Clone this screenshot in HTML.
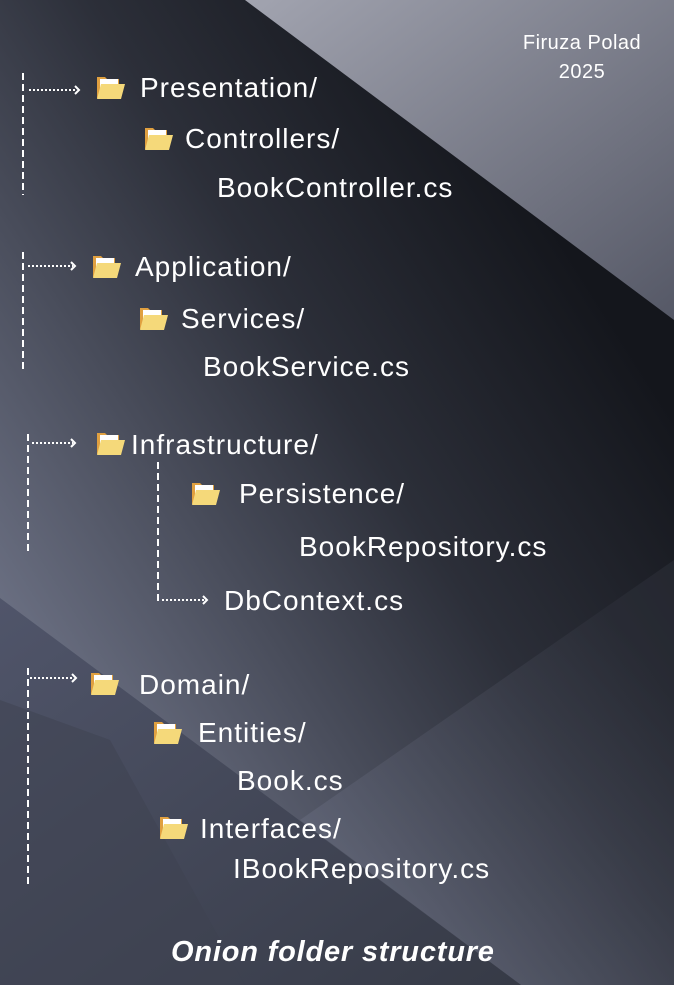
<!DOCTYPE html>
<html><head><meta charset="utf-8"><style>
body{margin:0;width:674px;height:985px;overflow:hidden;position:relative;font-family:"Liberation Sans",sans-serif;}
svg{position:absolute;left:0;top:0}
.t{position:absolute;color:#fff;font-size:28px;letter-spacing:1px;white-space:nowrap;line-height:1}
.f{position:absolute;width:30px;height:24px}
</style></head><body>
<svg width="674" height="985">
<defs>
<linearGradient id="bg" x1="0.75" y1="0.15" x2="0.1" y2="0.75">
<stop offset="0" stop-color="#14161c"/><stop offset="0.4" stop-color="#2c2f39"/><stop offset="1" stop-color="#6c7184"/></linearGradient>
<linearGradient id="tr" x1="0" y1="0" x2="1" y2="1">
<stop offset="0" stop-color="#a2a4b0"/><stop offset="1" stop-color="#555866"/></linearGradient>
<linearGradient id="bl" x1="0" y1="0" x2="1" y2="1">
<stop offset="0" stop-color="#50556a"/><stop offset="1" stop-color="#363a46"/></linearGradient>
<linearGradient id="br" x1="0.3" y1="1" x2="1" y2="0.3">
<stop offset="0" stop-color="#6c7184"/><stop offset="1" stop-color="#2e313b"/></linearGradient>
</defs>
<rect width="674" height="985" fill="url(#bg)"/>
<polygon points="674,560 674,985 521,985 300,820" fill="url(#br)" opacity="0.5"/>
<polygon points="245,0 674,0 674,320" fill="url(#tr)"/>
<polygon points="0,598 521,985 0,985" fill="url(#bl)"/>
<polygon points="110,740 245,985 0,985 0,700" fill="#3e4250" opacity="0.5"/>
<g stroke="#fff" stroke-width="2" fill="none">
<g stroke-dasharray="7,4">
<line x1="23" y1="73" x2="23" y2="195"/>
<line x1="23" y1="252" x2="23" y2="373"/>
<line x1="28" y1="434" x2="28" y2="555"/>
<line x1="158" y1="462" x2="158" y2="604"/>
<line x1="28" y1="668" x2="28" y2="887"/>
</g>
<g stroke-dasharray="2,2" stroke-width="2">
<line x1="29" y1="90" x2="77" y2="90"/>
<line x1="28" y1="266" x2="73" y2="266"/>
<line x1="32" y1="443" x2="73" y2="443"/>
<line x1="162" y1="600" x2="205" y2="600"/>
<line x1="30" y1="678" x2="74" y2="678"/>
</g>
<g stroke-width="2">
<polyline points="75,86 79,90 75,94"/>
<polyline points="71,262 75,266 71,270"/>
<polyline points="71,439 75,443 71,447"/>
<polyline points="203,596 207,600 203,604"/>
<polyline points="72,674 76,678 72,682"/>
</g>
</g>
</svg>
<svg width="0" height="0" style="position:absolute"><defs><symbol id="fo" viewBox="0 0 30 24"><path d="M1 1h8l2 2h12v19H1z" fill="#e0a040"/><rect x="4" y="3" width="18" height="12" fill="#fff"/><path d="M5 8h24l-4 15H1z" fill="#f5d97a"/></symbol></defs></svg>
<svg class="f" style="left:96px;top:76px"><use href="#fo"/></svg>
<svg class="f" style="left:144px;top:127px"><use href="#fo"/></svg>
<svg class="f" style="left:92px;top:255px"><use href="#fo"/></svg>
<svg class="f" style="left:139px;top:307px"><use href="#fo"/></svg>
<svg class="f" style="left:96px;top:432px"><use href="#fo"/></svg>
<svg class="f" style="left:191px;top:482px"><use href="#fo"/></svg>
<svg class="f" style="left:90px;top:672px"><use href="#fo"/></svg>
<svg class="f" style="left:153px;top:721px"><use href="#fo"/></svg>
<svg class="f" style="left:159px;top:816px"><use href="#fo"/></svg>
<div class="t" style="left:502px;top:29px;font-size:20px;letter-spacing:0.5px;width:160px;text-align:center;line-height:29px">Firuza Polad<br>2025</div>
<div class="t" style="left:140px;top:74px">Presentation/</div>
<div class="t" style="left:185px;top:125px">Controllers/</div>
<div class="t" style="left:217px;top:174px">BookController.cs</div>
<div class="t" style="left:135px;top:253px">Application/</div>
<div class="t" style="left:181px;top:305px">Services/</div>
<div class="t" style="left:203px;top:353px">BookService.cs</div>
<div class="t" style="left:131px;top:431px">Infrastructure/</div>
<div class="t" style="left:239px;top:480px">Persistence/</div>
<div class="t" style="left:299px;top:533px">BookRepository.cs</div>
<div class="t" style="left:224px;top:587px">DbContext.cs</div>
<div class="t" style="left:139px;top:671px">Domain/</div>
<div class="t" style="left:198px;top:719px">Entities/</div>
<div class="t" style="left:237px;top:767px">Book.cs</div>
<div class="t" style="left:200px;top:815px">Interfaces/</div>
<div class="t" style="left:233px;top:855px">IBookRepository.cs</div>
<div class="t" style="left:171px;top:938px;font-size:29px;letter-spacing:0.8px;font-weight:bold;font-style:italic">Onion folder structure</div>
</body></html>
